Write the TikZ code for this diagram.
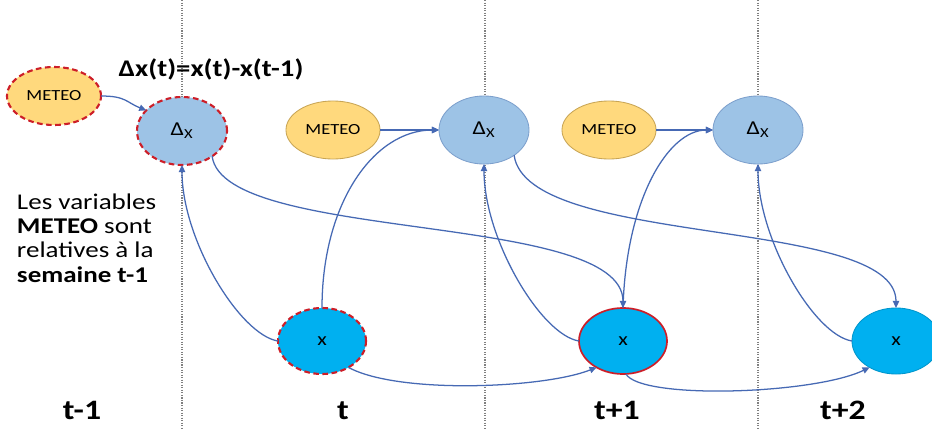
\documentclass[tikz,border=0pt]{standalone}
\usepackage{fontspec}
\setmainfont{Carlito}[FakeStretch=1.2]
\usetikzlibrary{shapes.geometric,arrows.meta}
\definecolor{jaune}{RGB}{255,217,125}
\definecolor{jaunebord}{RGB}{200,165,85}
\definecolor{bleuclair}{RGB}{157,195,230}
\definecolor{bleuclairbord}{RGB}{125,160,205}
\definecolor{bleuvif}{RGB}{0,176,240}
\definecolor{fleche}{RGB}{70,105,180}
\definecolor{rouge}{RGB}{205,30,40}

\begin{document}
\begin{tikzpicture}[x=0.025cm, y=-0.025cm,
  every node/.style={inner sep=0pt, outer sep=0pt},
  meteo/.style={ellipse, fill=jaune, draw=jaunebord, line width=0.6pt, minimum width=2.35cm, minimum height=1.45cm, font=\fontsize{11}{13}\selectfont},
  delta/.style={ellipse, fill=bleuclair, draw=bleuclairbord, line width=0.6pt, minimum width=2.25cm, minimum height=1.7cm, font=\fontsize{14}{16}\selectfont},
  xn/.style={ellipse, fill=bleuvif, draw=bleuvif!85!black, line width=0.6pt, minimum width=2.2cm, minimum height=1.65cm, font=\fontsize{13}{15}\selectfont},
  pointille/.style={draw=rouge, line width=1.5pt, dash pattern=on 4pt off 2.5pt},
  lien/.style={draw=fleche, line width=0.9pt, -{Triangle[length=5pt,width=4.5pt]}},
  temps/.style={anchor=base, font=\fontsize{20}{24}\selectfont\bfseries}]
\fill[white] (0,0) rectangle (932,428);
\useasboundingbox (0,0) rectangle (932,428);

\draw[densely dotted, gray, line width=0.8pt] (182,0) -- (182,428);
\draw[densely dotted, gray, line width=0.8pt] (485,0) -- (485,428);
\draw[densely dotted, gray, line width=0.8pt] (758,0) -- (758,428);

\node[meteo, pointille] (meteoA) at (54,96) {METEO};
\node[delta, pointille] (deltaA) at (182,131) {Δ\textsubscript{X}};
\node[meteo] (meteoB) at (333,130) {METEO};
\node[delta] (deltaB) at (484,130) {Δ\textsubscript{X}};
\node[meteo] (meteoC) at (609,130) {METEO};
\node[delta] (deltaC) at (758,130) {Δ\textsubscript{X}};

\node[xn, pointille] (xA) at (322,341) {x};
\node[xn, draw=rouge, line width=1.2pt] (xB) at (623,341) {x};
\node[xn] (xC) at (896,341) {x};

\node[anchor=base, font=\fontsize{17}{20}\selectfont\bfseries] (formule) at (211,76) {Δx(t)=x(t)-x(t-1)};
\node[anchor=base west, align=left, font=\fontsize{16}{17.3}\selectfont] (legende) at (17,282) {Les variables\\\textbf{METEO} sont\\relatives à la\\\textbf{semaine t-1}};

\node[temps] (tA) at (82,419) {t-1};
\node[temps] (tB) at (343,419) {t};
\node[temps] (tC) at (617,419) {t+1};
\node[temps] (tD) at (843,419) {t+2};

\draw[lien] (meteoA.east) .. controls +(25,0) and +(-20,-8) .. (deltaA.150);
\draw[lien] (meteoB.east) -- (deltaB.west);
\draw[lien] (meteoC.east) -- (deltaC.west);

\draw[lien] (deltaA.-40) .. controls +(12,87) and +(0,-97) .. (xB.north);
\draw[lien] (deltaB.-40) .. controls +(13,93) and +(0,-92) .. (xC.north);

\draw[lien] (xA.north) .. controls +(0,-105) and +(-65,0) .. (deltaB.west);
\draw[lien] (xB.north) .. controls +(3,-108) and +(-45,0) .. (deltaC.west);

\draw[lien] (xA.west) .. controls +(-38,-6) and +(0,75) .. (deltaA.south);
\draw[lien] (xB.west) .. controls +(-38,-6) and +(0,75) .. (deltaB.south);
\draw[lien] (xC.west) .. controls +(-38,-6) and +(0,75) .. (deltaC.south);

\draw[lien] (xA.-45) .. controls +(50,27) and +(-53,21) .. (xB.-135);
\draw[lien] (xB.-85) .. controls +(15,26) and +(-56,27) .. (xC.-135);
\end{tikzpicture}
\end{document}
